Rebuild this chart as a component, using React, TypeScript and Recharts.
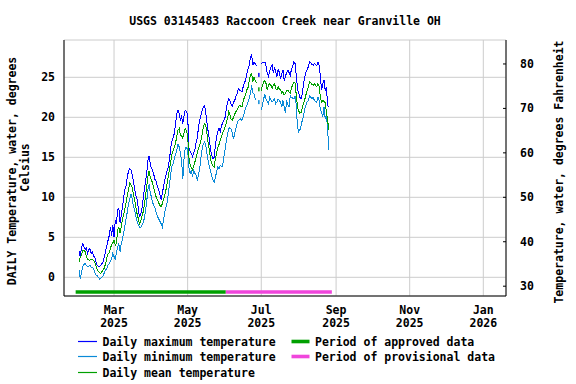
import { ComposedChart, Line, XAxis, YAxis, CartesianGrid, ReferenceLine } from 'recharts';

// day 0 = 2025-01-31, one value per day (°C), null = no record
const maxT: (number | null)[] = [
  3.3, 2.6, 3.6, 4.3, 3.8, 3.5, 3.7, 3.0, 3.4, 3.6,
  3.0, 3.2, 2.7, 2.5, 1.9, 1.5, 1.4, 1.3, 1.5, 1.7,
  2.0, 2.6, 3.3, 3.9, 4.6, 5.2, 6.3, 5.2, 6.5, 5.0,
  7.1, 6.8, 8.4, 8.6, 6.8, 7.8, 8.8, 10.0, 11.0, 11.5,
  12.5, 13.3, 13.6, 13.4, 12.9, 12.0, 11.1, 10.3, 9.8, 8.8,
  7.5, 7.9, 8.4, 9.6, 10.9, 11.8, 12.9, 14.6, 15.1, 14.2,
  13.6, 13.4, 12.8, 12.2, 12.0, 11.3, 10.9, 10.3, 9.7, 10.5,
  11.3, 12.1, 12.7, 13.3, 13.8, 14.8, 16.2, 17.0, 17.5, 18.0,
  19.2, 20.4, 20.9, 20.5, 19.7, 20.1, 19.2, 20.2, 20.9, 20.7,
  20.4, 16.2, 15.8, 15.5, 15.1, 15.6, 16.0, 16.8, 17.4, 18.8,
  19.7, 20.2, 20.9, 21.3, 21.5, 20.6, 19.4, 18.2, 17.2, 16.0,
  15.2, 14.8, 15.0, 16.5, 17.5, 18.2, 18.6, 18.2, 18.9, 19.3,
  19.6, 20.0, 21.0, 21.9, 22.3, 22.1, 21.6, 21.4, 21.9, 22.1,
  22.6, 23.0, 23.6, 23.4, 23.3, 23.2, 23.8, 24.3, 24.6, 25.4,
  26.0, 26.5, 27.5, 27.8, 26.5, 26.9, 26.7, 26.4, null, 25.3,
  null, 26.7, 26.8, 26.9, 26.9, 26.4, 25.5, 25.1, 25.8, 26.3,
  26.5, 25.5, 26.3, 25.7, 25.1, 26.0, 25.6, 24.8, 25.5, 25.9,
  24.6, 25.1, 25.6, 25.9, 25.6, 25.2, 26.0, 26.4, 26.9, 26.7,
  25.3, 23.6, 23.0, 22.5, 22.3, 23.0, 24.1, 25.0, 25.6, 26.0,
  26.3, 26.9, 26.8, 26.6, 26.5, 26.7, 26.6, 26.5, 26.9, 26.5,
  25.0, 23.4, 24.2, 24.6, 23.3, 23.8, 21.5, 21.3,
];

const meanT: (number | null)[] = [
  1.9, 2.5, 2.8, 3.3, 3.4, 3.2, 2.6, 2.3, 2.2, 2.1,
  2.3, 2.2, 2.1, 1.9, 1.4, 1.0, 0.7, 0.6, 0.5, 0.7,
  0.9, 1.2, 1.7, 2.4, 2.9, 3.1, 3.6, 4.1, 4.3, 4.6,
  4.0, 4.3, 5.9, 6.2, 5.5, 6.3, 7.3, 7.8, 8.6, 9.4,
  10.2, 10.9, 11.8, 11.6, 11.2, 10.4, 9.8, 8.8, 8.0, 7.4,
  6.7, 7.0, 7.5, 8.1, 8.9, 10.0, 11.2, 12.6, 13.3, 12.5,
  12.1, 11.8, 11.1, 10.5, 10.0, 9.7, 9.3, 9.0, 8.8, 9.2,
  9.7, 10.2, 10.9, 11.8, 12.6, 13.6, 14.5, 15.4, 15.9, 16.3,
  16.8, 17.6, 18.4, 18.6, 17.8, 17.7, 17.4, 18.1, 18.6, 18.3,
  17.7, 15.0, 14.1, 13.7, 13.4, 13.9, 14.4, 15.0, 15.6, 16.1,
  16.5, 17.1, 17.9, 18.8, 19.2, 19.0, 18.0, 16.8, 15.9, 14.8,
  14.2, 13.9, 13.8, 14.8, 15.5, 16.2, 16.6, 17.1, 17.6, 18.0,
  18.4, 18.8, 19.3, 19.8, 20.7, 20.3, 19.8, 19.6, 20.0, 20.4,
  20.7, 20.9, 21.3, 21.5, 21.4, 21.3, 22.0, 22.5, 22.8, 23.4,
  23.7, 24.5, 25.3, 25.5, 24.4, 25.0, 24.6, 24.3, null, 23.5,
  null, 23.3, 24.0, 24.4, 24.6, 24.2, 23.4, 24.0, 24.2, 24.0,
  23.6, 24.0, 24.2, 23.6, 23.4, 23.8, 23.5, 23.4, 23.0, 23.2,
  22.8, 23.0, 23.4, 23.4, 23.2, 23.0, 23.7, 24.0, 24.4, 24.3,
  22.8, 21.3, 20.8, 20.5, 20.6, 21.2, 21.7, 22.2, 22.8, 23.3,
  23.8, 24.4, 24.3, 24.1, 24.0, 24.2, 24.0, 23.8, 24.2, 23.9,
  22.4, 21.9, 22.1, 22.0, 21.8, 20.6, 19.6, 18.4,
];

const minT: (number | null)[] = [
  0.9, -0.2, 0.5, 1.3, 1.6, 1.7, 1.5, 1.3, 1.4, 1.5,
  1.3, 1.2, 1.1, 0.6, 0.3, 0.2, 0.0, -0.2, -0.1, 0.0,
  0.2, 0.6, 0.9, 1.1, 1.5, 1.7, 2.0, 2.3, 3.0, 2.6,
  2.3, 3.0, 3.8, 4.2, 3.2, 4.2, 4.8, 5.5, 6.5, 7.3,
  8.2, 9.2, 9.8, 10.4, 9.8, 8.9, 8.4, 7.7, 7.1, 6.6,
  6.3, 6.2, 6.5, 6.8, 7.3, 8.2, 9.3, 11.0, 11.6, 10.6,
  10.0, 9.3, 9.0, 8.6, 8.0, 7.6, 7.3, 7.0, 6.7, 6.3,
  7.2, 8.1, 8.8, 9.4, 10.5, 11.6, 12.9, 13.9, 14.2, 14.9,
  15.4, 15.9, 16.6, 16.3, 15.6, 14.5, 12.3, 14.8, 16.2, 16.2,
  16.0, 13.8, 13.0, 13.3, 12.6, 13.3, 13.0, 12.8, 12.1, 12.9,
  13.6, 15.0, 16.0, 16.7, 16.9, 16.5, 15.5, 14.6, 13.8, 13.2,
  12.6, 12.2, 11.9, 12.5, 13.2, 13.8, 13.6, 14.0, 13.8, 13.9,
  15.0, 16.0, 17.0, 17.8, 18.6, 18.7, 18.5, 18.0, 17.3, 18.0,
  18.6, 19.2, 19.6, 19.7, 19.8, 19.6, 20.1, 20.6, 21.1, 21.5,
  21.9, 22.4, 22.9, 24.0, 23.1, 22.9, 22.3, 22.1, null, 21.9,
  null, 20.9, 21.5, 22.3, 22.9, 22.3, 21.9, 21.7, 22.5, 22.2,
  21.9, 22.1, 22.3, 21.7, 21.9, 22.3, 22.1, 21.9, 21.3, 22.1,
  21.3, 20.5, 22.1, 21.6, 21.3, 22.7, 22.5, 22.4, 22.3, 22.7,
  21.5, 18.8, 18.2, 18.4, 19.0, 19.6, 20.2, 21.0, 21.5, 21.9,
  22.1, 22.7, 22.5, 22.3, 22.5, 22.1, 22.0, 21.9, 22.5, 22.1,
  20.9, 20.7, 20.0, 21.3, 19.8, 20.4, 18.4, 15.9,
];

// month ticks as day offsets from 2025-01-31
const monthTicks = [29, 90, 151, 213, 274, 335];
const monthNames = ['Mar', 'May', 'Jul', 'Sep', 'Nov', 'Jan'];
const monthYears = ['2025', '2025', '2025', '2025', '2025', '2026'];

const celsiusTicks = [0, 5, 10, 15, 20, 25];
const fahrenheitTicks = [30, 40, 50, 60, 70, 80];

// data status periods (day offsets)
const approvedPeriod = [-2.8, 121.6];
const provisionalPeriod = [121.6, 209.5];
const periodLevel = -1.84;

const dayDomain = [-12.46, 353.8];
const cDomain = [-2.3375, 29.6625];
const toF = (c: number) => 32 + c * 1.8;

const chartData = maxT.map((v, i) => ({
  day: i,
  max: v,
  min: minT[i],
  mean: meanT[i],
}));

const FONT = '"DejaVu Sans Mono", monospace';
const textStyle = { fontFamily: FONT, fontWeight: 'bold' as const, fontSize: 11.5, fill: '#000' };

function MonthTick({ x, y, index }: any) {
  return (
    <g>
      <text x={x} y={y + 18} textAnchor="middle" style={textStyle}>{monthNames[index]}</text>
      <text x={x} y={y + 30.5} textAnchor="middle" style={textStyle}>{monthYears[index]}</text>
    </g>
  );
}

function LeftTick({ x, y, payload }: any) {
  return (
    <text x={x - 9} y={y + 4} textAnchor="end" style={textStyle}>{payload.value}</text>
  );
}

function RightTick({ x, y, payload }: any) {
  return (
    <g>
      <line x1={x - 3} x2={x} y1={y} y2={y} stroke="#000" />
      <text x={x + 14} y={y + 4} textAnchor="start" style={textStyle}>{payload.value}</text>
    </g>
  );
}

// single days between gaps get a small mark so they stay visible
function gapDot(values: (number | null)[]) {
  return (props: any) => {
    const { cx, cy, index, stroke } = props;
    const v = values[index];
    const lone = v != null && values[index - 1] == null && values[index + 1] == null && index > 0;
    if (!lone || cx == null || cy == null) return <g key={index} />;
    return <rect key={index} x={cx - 0.75} y={cy - 2} width={1.5} height={4} fill={stroke} />;
  };
}

const legendLines = [
  { label: 'Daily maximum temperature', color: '#0000ff', y: 341.5 },
  { label: 'Daily minimum temperature', color: '#0a8ad8', y: 356.5 },
  { label: 'Daily mean temperature', color: '#00a000', y: 372.5 },
];
const legendBars = [
  { label: 'Period of approved data', color: '#00a000', y: 341.5 },
  { label: 'Period of provisional data', color: '#f046dc', y: 356.5 },
];

export default function App() {
  return (
    <div style={{ position: 'absolute', left: 0, top: 0, width: 576, height: 384, background: '#fff' }}>
      <ComposedChart width={576} height={384} data={chartData} margin={{ top: 40, right: 0, bottom: 0, left: 0 }}>
        <CartesianGrid stroke="#cccccc" />
        <XAxis
          dataKey="day"
          type="number"
          domain={dayDomain}
          ticks={monthTicks}
          allowDataOverflow
          height={88}
          tickLine={false}
          tickSize={0}
          tickMargin={0}
          axisLine={{ stroke: '#000' }}
          tick={<MonthTick />}
          interval={0}
        />
        <XAxis xAxisId="top" orientation="top" type="number" domain={dayDomain} allowDataOverflow height={0} tick={false} tickLine={false} axisLine={{ stroke: '#000' }} />
        <YAxis
          type="number"
          domain={cDomain}
          ticks={celsiusTicks}
          allowDataOverflow
          width={64}
          tickLine={false}
          tickSize={0}
          tickMargin={0}
          axisLine={{ stroke: '#000' }}
          tick={<LeftTick />}
          interval={0}
        />
        <YAxis
          yAxisId="f"
          orientation="right"
          type="number"
          domain={[toF(cDomain[0]), toF(cDomain[1])]}
          ticks={fahrenheitTicks}
          allowDataOverflow
          width={70}
          tickLine={false}
          tickSize={0}
          tickMargin={0}
          axisLine={{ stroke: '#000' }}
          tick={<RightTick />}
          interval={0}
        />
        <ReferenceLine
          segment={[{ x: approvedPeriod[0], y: periodLevel }, { x: approvedPeriod[1], y: periodLevel }]}
          stroke="#00a000"
          strokeWidth={3.5}
        />
        <ReferenceLine
          segment={[{ x: provisionalPeriod[0], y: periodLevel }, { x: provisionalPeriod[1], y: periodLevel }]}
          stroke="#f046dc"
          strokeWidth={3.5}
        />
        <Line dataKey="max" type="linear" stroke="#0000ff" strokeWidth={1} shapeRendering="crispEdges" dot={gapDot(maxT)} activeDot={false} isAnimationActive={false} />
        <Line dataKey="min" type="linear" stroke="#0a8ad8" strokeWidth={1} shapeRendering="crispEdges" dot={gapDot(minT)} activeDot={false} isAnimationActive={false} />
        <Line dataKey="mean" type="linear" stroke="#00a000" strokeWidth={1} shapeRendering="crispEdges" dot={gapDot(meanT)} activeDot={false} isAnimationActive={false} />
      </ComposedChart>
      <svg width={576} height={384} style={{ position: 'absolute', left: 0, top: 0, pointerEvents: 'none' }}>
        <text x={285} y={25} textAnchor="middle" style={textStyle}>USGS 03145483 Raccoon Creek near Granville OH</text>
        <text x={15.5} y={171} textAnchor="middle" transform="rotate(-90 15.5 171)" style={textStyle}>DAILY Temperature, water, degrees</text>
        <text x={28.5} y={167.5} textAnchor="middle" transform="rotate(-90 28.5 167.5)" style={textStyle}>Celsius</text>
        <text x={563} y={172} textAnchor="middle" transform="rotate(-90 563 172)" style={textStyle}>Temperature, water, degrees Fahrenheit</text>
        {legendLines.map((l) => (
          <g key={l.label}>
            <line x1={78} x2={97} y1={l.y} y2={l.y} stroke={l.color} strokeWidth={1.2} />
            <text x={102.5} y={l.y + 4} style={textStyle}>{l.label}</text>
          </g>
        ))}
        {legendBars.map((l) => (
          <g key={l.label}>
            <rect x={291.5} y={l.y - 1.8} width={18} height={3.6} fill={l.color} />
            <text x={315} y={l.y + 4} style={textStyle}>{l.label}</text>
          </g>
        ))}
      </svg>
    </div>
  );
}
